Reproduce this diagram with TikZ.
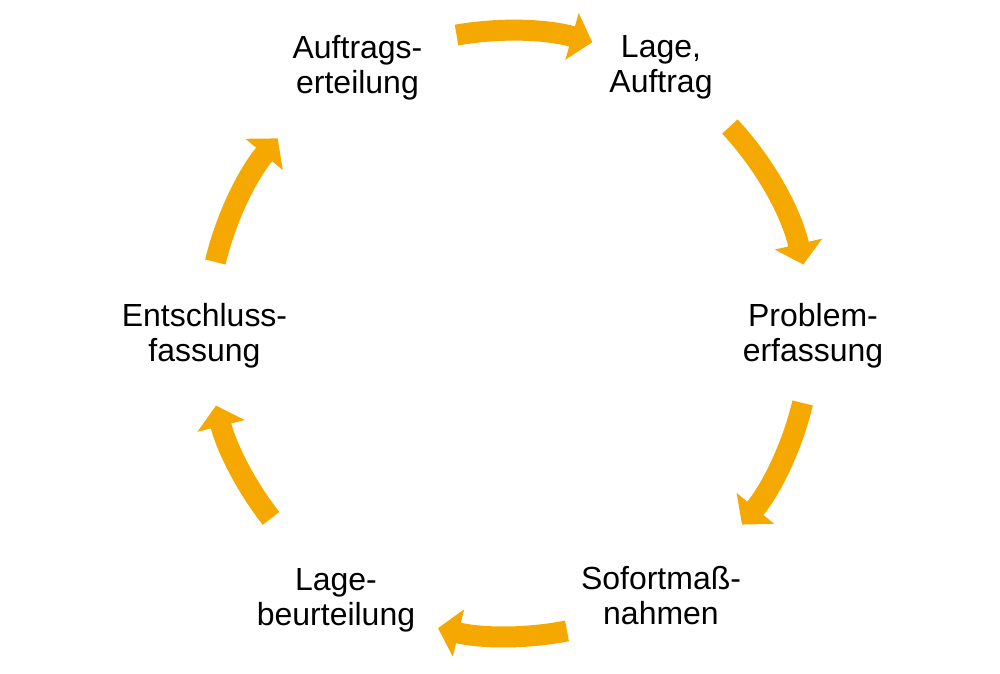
\documentclass[tikz,border=0pt]{standalone}
\usepackage{fontspec}
\setmainfont{Liberation Sans}
\usepackage{tikz}
\usetikzlibrary{arrows.meta}
\definecolor{cycleorange}{RGB}{245,168,0}

\begin{document}
\begin{tikzpicture}[>=Triangle,
        phase/.style={align=center, inner sep=0pt, font=\fontsize{18.2}{20}\selectfont},
        cyc/.style={line width=0.42cm, cycleorange, -{Triangle[length=0.42cm, width=0.95cm]}}]
        \useasboundingbox (0, 0) rectangle (20, 13.48);
        % Nodes
        \coordinate (C) at (10.18, 6.83);
        \node[phase] (auftragserteilung) at (7.15, 12.13) {Auftrags-\\erteilung};
        \node[phase] (lage) at (13.22, 12.13) {Lage,\\Auftrag};
        \node[phase] (problem) at (16.26, 6.76) {Problem-\\erfassung};
        \node[phase] (sofort) at (13.22, 1.57) {Sofortmaß-\\nahmen};
        \node[phase] (beurteilung) at (6.72, 1.48) {Lage-\\beurteilung};
        \node[phase] (entschluss) at (4.09, 6.76) {Entschluss-\\fassung};

        % Cycle arrows
        \draw[cyc] ([shift={(100:6.04)}]C) arc[start angle=100, end angle=74, radius=6.04];
        \draw[cyc] ([shift={(43:6.04)}]C) arc[start angle=43, end angle=13, radius=6.04];
        \draw[cyc] ([shift={(-13.5:6.04)}]C) arc[start angle=-13.5, end angle=-39.5, radius=6.04];
        \draw[cyc] ([shift={(-79:6.08)}]C) arc[start angle=-79, end angle=-103.5, radius=6.08];
        \draw[cyc] ([shift={(-142:6.04)}]C) arc[start angle=-142, end angle=-166, radius=6.04];
        \draw[cyc] ([shift={(166.5:6.04)}]C) arc[start angle=166.5, end angle=140, radius=6.04];
    \end{tikzpicture}
\end{document}
